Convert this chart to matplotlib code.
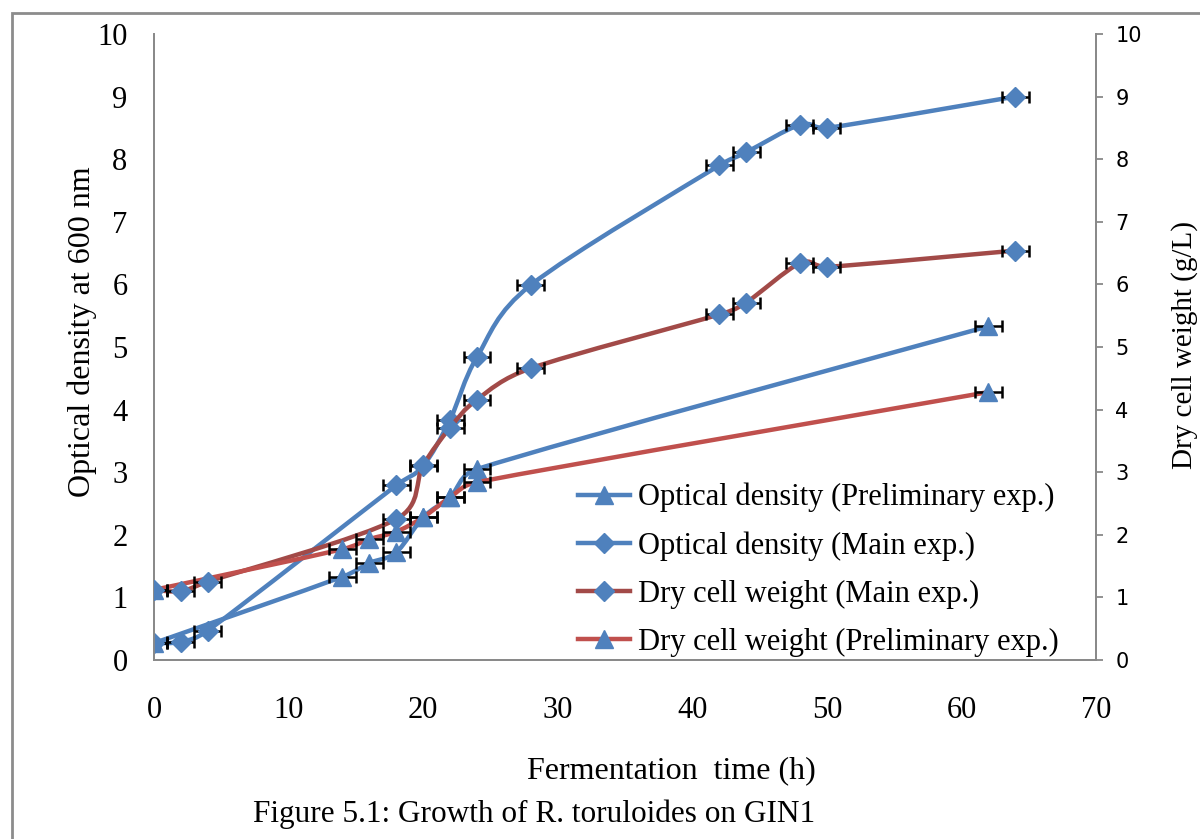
import matplotlib
matplotlib.use("Agg")
import matplotlib.pyplot as plt
import numpy as np
from matplotlib.path import Path
from matplotlib.patches import PathPatch, Rectangle
from matplotlib.lines import Line2D

plt.rcParams['font.family'] = ['Liberation Serif', 'DejaVu Serif']

# данные
t_prelim = [0, 14, 16, 18, 20, 22, 24, 62]
od_prelim = [0.27, 1.33, 1.55, 1.72, 2.28, 2.6, 3.05, 5.33]
dcw_prelim = [1.12, 1.77, 1.93, 2.05, 2.28, 2.6, 2.84, 4.28]

t_main = [0, 2, 4, 18, 20, 22, 24, 28, 42, 44, 48, 50, 64]
od_main = [0.27, 0.29, 0.47, 2.79, 3.1, 3.84, 4.84, 5.99, 7.9, 8.11, 8.55, 8.5, 9.0]
dcw_main = [1.12, 1.1, 1.25, 2.25, 3.11, 3.71, 4.16, 4.66, 5.52, 5.71, 6.34, 6.28, 6.54]

t_err = 1.0  # погрешность по времени, ч

labels = ['Optical density (Preliminary exp.)', 'Optical density (Main exp.)',
          'Dry cell weight (Main exp.)', 'Dry cell weight (Preliminary exp.)']

blue = '#4F81BD'
red = '#C0504D'
dark_red = '#A24A48'

# масштаб осей в пикселях на единицу (для сглаживания)
SX, SY = 942 / 70, 626 / 10


def smooth(x, y):
    # сглаженная линия как в Excel (кривые Безье с ограничением касательных)
    p = np.column_stack([np.array(x) * SX, np.array(y) * SY]).astype(float)
    n = len(p)
    verts = [p[0]]
    codes = [Path.MOVETO]
    for i in range(n - 1):
        p0 = p[max(i - 1, 0)]
        p1 = p[i]
        p2 = p[i + 1]
        p3 = p[min(i + 2, n - 1)]
        seg = np.linalg.norm(p2 - p1)
        d1 = (p2 - p0) / 6
        d2 = (p3 - p1) / 6
        for d in (d1, d2):
            L = np.linalg.norm(d)
            if L > 0.5 * seg:
                d *= 0.5 * seg / L
        verts += [p1 + d1, p2 - d2, p2]
        codes += [Path.CURVE4] * 3
    verts = np.array(verts) / [SX, SY]
    return Path(verts, codes)


def series(ax, x, y, color, marker, ms):
    ax.errorbar(x, y, xerr=t_err, fmt='none', ecolor='black', elinewidth=1.8,
                capsize=4.5, capthick=1.8, zorder=3)
    ax.add_patch(PathPatch(smooth(x, y), fill=False, edgecolor=color, lw=3.2,
                           zorder=2, capstyle='round', joinstyle='round'))
    ax.plot(x, y, linestyle='none', marker=marker, ms=ms, color=blue, zorder=4)


fig = plt.figure(figsize=(12, 8.39), dpi=100)
ax = fig.add_axes([154 / 1200, 1 - 660 / 839, 942 / 1200, 626 / 839])
ax2 = ax.twinx()

series(ax, t_prelim, od_prelim, blue, '^', 13)
series(ax, t_main, od_main, blue, 'D', 10)
series(ax2, t_main, dcw_main, dark_red, 'D', 10)
series(ax2, t_prelim, dcw_prelim, red, '^', 13)

for a in (ax, ax2):
    a.set_xlim(0, 70)
    a.set_ylim(0, 10)
    a.set_yticks(range(0, 11))
    a.spines['top'].set_visible(False)
    for s in a.spines.values():
        s.set_color('#898989')
        s.set_linewidth(1.3)

ax.set_xticks(range(0, 71, 10))
ax.tick_params(axis='x', length=0, pad=26, labelsize=22)
ax.tick_params(axis='y', length=0, pad=19, labelsize=22)
ax2.tick_params(axis='y', length=5, width=1.3, color='#898989', pad=9, labelsize=15)
for lb in ax2.get_yticklabels():
    lb.set_family('DejaVu Sans')

ax.set_xlabel('Fermentation  time (h)', fontsize=23)
ax.xaxis.set_label_coords(0.549, -0.153)
ax.set_ylabel('Optical density at 600 nm', fontsize=23)
ax.yaxis.set_label_coords(-0.06, 0.524)
ax2.set_ylabel('Dry cell weight (g/L)', fontsize=21)
ax2.yaxis.set_label_coords(1.08, 0.503)

handles = [
    Line2D([], [], color=blue, lw=3.2, marker='^', ms=13, mfc=blue, mec=blue),
    Line2D([], [], color=blue, lw=3.2, marker='D', ms=10, mfc=blue, mec=blue),
    Line2D([], [], color=dark_red, lw=3.2, marker='D', ms=10, mfc=blue, mec=blue),
    Line2D([], [], color=red, lw=3.2, marker='^', ms=13, mfc=blue, mec=blue),
]
ax2.legend(handles, labels, loc='upper left', bbox_to_anchor=(578 / 1200, 1 - 483 / 839),
           bbox_transform=fig.transFigure, frameon=False, fontsize=22,
           handlelength=1.7, handletextpad=0.25, labelspacing=0.62,
           borderpad=0, borderaxespad=0)

fig.text(253 / 1200, 1 - 814 / 839, 'Figure 5.1: Growth of R. toruloides on GIN1',
         fontsize=22.5, va='center', ha='left')

# рамка вокруг рисунка
fig.add_artist(Rectangle((12 / 1200, -0.5), 2, 0.5 + 1 - 13 / 839, transform=fig.transFigure,
                         fill=False, edgecolor='#8c8c8c', lw=2))

fig.savefig('out.png', dpi=100)
